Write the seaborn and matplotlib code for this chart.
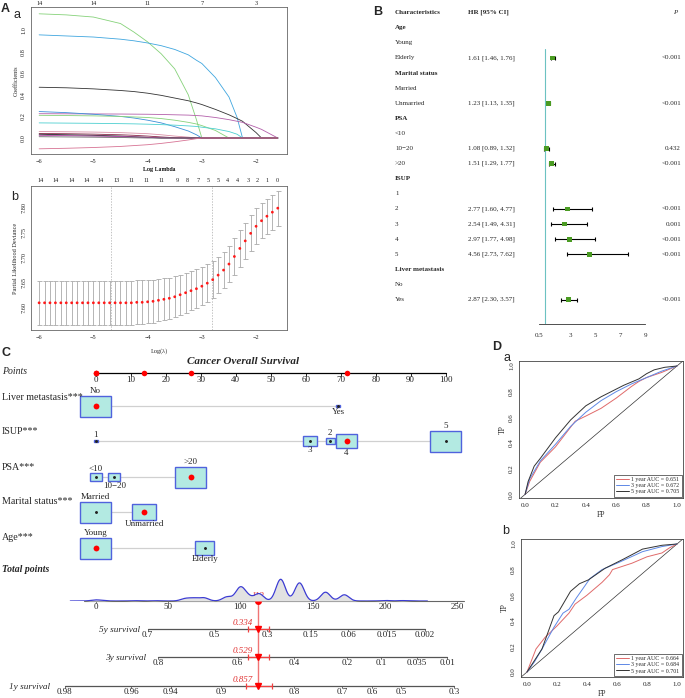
import numpy as np
import matplotlib
matplotlib.use("Agg")
import matplotlib.pyplot as plt
import matplotlib.transforms as mtransforms
from matplotlib.patches import Rectangle
import seaborn as sns

# ---------------- A-a: lasso coefficient paths ----------------
coef_lambda = [-6.0, -5.5, -5.0, -4.5, -4.25, -4.0, -3.75, -3.5, -3.25, -3.1, -3.0,
               -2.75, -2.5, -2.35, -2.25, -2.0, -1.9, -1.6]
coef_green1 = [1.15, 1.14, 1.12, 1.06, 0.98, 0.89, 0.78, 0.64, 0.40, 0.17, 0, 0, 0, 0, 0, 0, 0, 0]
coef_blue1 = [0.955, 0.945, 0.935, 0.915, 0.90, 0.88, 0.855, 0.82, 0.77, 0.72, 0.69, 0.56, 0.38, 0.19, 0, 0, 0, 0]
coef_black1 = [0.47, 0.465, 0.455, 0.44, 0.43, 0.415, 0.395, 0.37, 0.345, 0.325, 0.31, 0.265, 0.215, 0.18, 0.155, 0.05, 0, 0]
coef_purple = [0.225, 0.224, 0.223, 0.222, 0.221, 0.22, 0.218, 0.215, 0.212, 0.208, 0.205, 0.19, 0.17, 0.155, 0.145, 0.10, 0.08, 0]
coef_blue2 = [0.245, 0.235, 0.22, 0.20, 0.185, 0.165, 0.14, 0.105, 0.065, 0.03, 0, 0, 0, 0, 0, 0, 0, 0]
coef_green2 = [0.21, 0.208, 0.205, 0.20, 0.195, 0.19, 0.18, 0.165, 0.145, 0.13, 0.115, 0.07, 0, 0, 0, 0, 0, 0]
coef_cyan = [0.14, 0.138, 0.136, 0.133, 0.131, 0.128, 0.124, 0.119, 0.112, 0.107, 0.10, 0.085, 0.06, 0.035, 0, 0, 0, 0]
coef_pink = [0.06, 0.058, 0.055, 0.05, 0.045, 0.04, 0.03, 0.018, 0.008, 0, 0, 0, 0, 0, 0, 0, 0, 0]
coef_darkred = [0.042, 0.04, 0.036, 0.03, 0.025, 0.018, 0.01, 0.003, 0, 0, 0, 0, 0, 0, 0, 0, 0, 0]
coef_black2 = [0.035, 0.03, 0.025, 0.018, 0.012, 0.006, 0, 0, 0, 0, 0, 0, 0, 0, 0, 0, 0, 0]
coef_magenta = [0.025, 0.022, 0.018, 0.014, 0.01, 0.006, 0.002, 0, 0, 0, 0, 0, 0, 0, 0, 0, 0, 0]
coef_gray = [0.012, 0.01, 0.008, 0.005, 0.002, 0, 0, 0, 0, 0, 0, 0, 0, 0, 0, 0, 0, 0]
coef_red = [-0.10, -0.095, -0.088, -0.078, -0.07, -0.062, -0.05, -0.035, -0.018, -0.006, 0, 0, 0, 0, 0, 0, 0, 0]
coef_top_ticks = [-6, -5, -4, -3, -2]
coef_top_labels = ["14", "14", "11", "7", "3"]

# ---------------- A-b: cross-validation deviance ----------------
cv_lambda = [-6.0, -5.9, -5.8, -5.7, -5.6, -5.5, -5.4, -5.3, -5.2, -5.1, -5.0, -4.9, -4.8, -4.7, -4.6,
             -4.5, -4.4, -4.3, -4.2, -4.1, -4.0, -3.9, -3.8, -3.7, -3.6, -3.5, -3.4, -3.3, -3.2, -3.1,
             -3.0, -2.9, -2.8, -2.7, -2.6, -2.5, -2.4, -2.3, -2.2, -2.1, -2.0, -1.9, -1.8, -1.7, -1.6]
cv_mean = [7.610, 7.610, 7.610, 7.610, 7.610, 7.610, 7.610, 7.610, 7.610, 7.610, 7.610, 7.610, 7.610,
           7.610, 7.610, 7.610, 7.610, 7.610, 7.611, 7.611, 7.612, 7.613, 7.615, 7.617, 7.619, 7.622,
           7.626, 7.630, 7.634, 7.638, 7.643, 7.649, 7.656, 7.665, 7.675, 7.687, 7.702, 7.718, 7.733,
           7.748, 7.762, 7.773, 7.782, 7.790, 7.798]
cv_sd = [0.044, 0.044, 0.044, 0.044, 0.044, 0.044, 0.044, 0.044, 0.044, 0.044, 0.044, 0.044, 0.044,
         0.044, 0.044, 0.044, 0.044, 0.044, 0.044, 0.0435, 0.043, 0.0425, 0.042, 0.0415, 0.041, 0.0405,
         0.040, 0.0395, 0.039, 0.0385, 0.038, 0.0375, 0.037, 0.0365, 0.036, 0.036, 0.036, 0.036, 0.0355,
         0.0355, 0.0355, 0.035, 0.035, 0.035, 0.035]
cv_top_pos = [-5.97, -5.69, -5.41, -5.13, -4.86, -4.57, -4.30, -4.02, -3.74, -3.46, -3.26, -3.07,
              -2.89, -2.70, -2.52, -2.34, -2.15, -1.98, -1.80, -1.60]
cv_top_labels = ["14", "14", "14", "14", "14", "13", "11", "11", "11", "9", "8", "7",
                 "5", "5", "4", "4", "3", "2", "1", "0"]
lambda_min = -4.67
lambda_1se = -2.81

# ---------------- B: forest plot ----------------
forest_labels = ["Age", "Young", "Elderly", "Marital status", "Married", "Unmarried", "PSA", "<10",
                 "10\u221220", ">20", "ISUP", "1", "2", "3", "4", "5", "Liver metastasis", "No", "Yes"]
forest_header = [True, False, False, True, False, False, True, False, False, False, True,
                 False, False, False, False, False, True, False, False]
forest_hr = [None, None, 1.61, None, None, 1.23, None, None, 1.08, 1.51, None, None, 2.77, 2.54,
             2.97, 4.56, None, None, 2.87]
forest_lo = [None, None, 1.46, None, None, 1.13, None, None, 0.89, 1.29, None, None, 1.60, 1.49,
             1.77, 2.73, None, None, 2.30]
forest_hi = [None, None, 1.76, None, None, 1.35, None, None, 1.32, 1.77, None, None, 4.77, 4.31,
             4.98, 7.62, None, None, 3.57]
forest_p = [None, None, "<0.001", None, None, "<0.001", None, None, "0.432", "<0.001", None, None,
            "<0.001", "0.001", "<0.001", "<0.001", None, None, "<0.001"]
forest_ticks = [0.5, 3, 5, 7, 9]

# ---------------- C: nomogram ----------------
nomo_vars = ["Liver metastasis***", "ISUP***", "PSA***", "Marital status***", "Age***"]
nomo_levels = [["No", "Yes"], ["1", "2", "3", "4", "5"], ["<10", "10\u221220", ">20"],
               ["Married", "Unmarried"], ["Young", "Elderly"]]
nomo_points = [[0, 69.3], [0, 67.0, 61.2, 71.7, 100], [0, 5.3, 27.1], [0, 13.8], [0, 31.2]]
nomo_freq = [[1.0, 0.13], [0.13, 0.29, 0.45, 0.68, 1.0], [0.38, 0.39, 1.0], [1.0, 0.75], [1.0, 0.62]]
nomo_selected = ["No", "4", ">20", "Unmarried", "Young"]
points_ticks = [0, 10, 20, 30, 40, 50, 60, 70, 80, 90, 100]
total_ticks = [0, 50, 100, 150, 200, 250]
# distribution of total points in the cohort
total_scores = [0, 5, 27, 41, 62, 68, 75, 91, 100, 105, 113, 128, 141, 159, 172, 200, 212]
score_weights = [1.0, 0.3, 0.3, 0.3, 2.2, 2.5, 3.0, 4.0, 12.5, 4.0, 7.0, 21.0, 17.5, 8.5, 6.0, 0.5, 0.4]
surv_names = ["5y survival", "3y survival", "1y survival"]
surv_tick_labels = [["0.7", "0.5", "0.3", "0.15", "0.06", "0.015", "0.002"],
                    ["0.8", "0.6", "0.4", "0.2", "0.1", "0.035", "0.01"],
                    ["0.98", "0.96", "0.94", "0.9", "0.8", "0.7", "0.6", "0.5", "0.3"]]
surv_tick_total = [[36, 82.3, 118.6, 148.7, 174.8, 201.4, 227.5],
                   [43.5, 98.3, 137.1, 174.1, 197.3, 222, 243],
                   [-21.3, 24.5, 52, 87, 137.1, 170.7, 191, 211, 248]]
surv_pred = ["0.334", "0.529", "0.857"]
surv_ci_total = [[105.2, 119.8], [105.2, 120.0], [104.0, 122.0]]

# ---------------- D: ROC curves ----------------
roc_a = {
    "1 year AUC = 0.651": ([0, 0.03, 0.1, 0.2, 0.33, 0.4, 0.5, 0.55, 0.6, 0.7, 0.75, 0.8, 0.9, 1.0],
                           [0, 0.1, 0.25, 0.37, 0.57, 0.61, 0.67, 0.71, 0.75, 0.84, 0.88, 0.91, 0.95, 1.0]),
    "3 year AUC = 0.672": ([0, 0.03, 0.1, 0.2, 0.3, 0.4, 0.5, 0.6, 0.7, 0.8, 0.9, 1.0],
                           [0, 0.12, 0.26, 0.39, 0.53, 0.64, 0.73, 0.80, 0.86, 0.91, 0.96, 1.0]),
    "5 year AUC = 0.705": ([0, 0.02, 0.06, 0.1, 0.2, 0.3, 0.4, 0.5, 0.55, 0.65, 0.75, 0.8, 0.85, 0.92, 1.0],
                           [0, 0.1, 0.22, 0.28, 0.44, 0.58, 0.69, 0.76, 0.79, 0.85, 0.90, 0.94, 0.97, 0.99, 1.0]),
}
roc_b = {
    "1 year AUC = 0.664": ([0, 0.06, 0.12, 0.2, 0.28, 0.32, 0.4, 0.5, 0.55, 0.57, 0.7, 0.8, 0.9, 0.95, 1.0],
                           [0, 0.18, 0.27, 0.36, 0.46, 0.53, 0.60, 0.70, 0.76, 0.80, 0.85, 0.90, 0.93, 0.97, 1.0]),
    "3 year AUC = 0.684": ([0, 0.05, 0.1, 0.18, 0.24, 0.28, 0.33, 0.42, 0.5, 0.62, 0.77, 0.9, 1.0],
                           [0, 0.08, 0.18, 0.35, 0.46, 0.49, 0.58, 0.73, 0.80, 0.86, 0.94, 0.98, 1.0]),
    "5 year AUC = 0.701": ([0, 0.05, 0.1, 0.18, 0.21, 0.29, 0.35, 0.41, 0.52, 0.64, 0.77, 0.9, 1.0],
                           [0, 0.09, 0.18, 0.44, 0.47, 0.63, 0.69, 0.72, 0.81, 0.88, 0.96, 0.99, 1.0]),
}

# ---------------- figure ----------------
sns.set_style("white")
plt.rcParams["font.family"] = ["Liberation Serif", "DejaVu Serif"]

W, H = 685, 698
fig = plt.figure(figsize=(W / 100, H / 100), dpi=100)


def px_axes(l, t, r, b):
    return fig.add_axes([l / W, 1 - b / H, (r - l) / W, (b - t) / H])


def px_text(x, y, s, **kw):
    fig.text(x / W, 1 - y / H, s, **kw)


def r_box(ax, size=4.5, edge="#666666"):
    for sp in ax.spines.values():
        sp.set_visible(True)
        sp.set_color(edge)
        sp.set_linewidth(0.6)
    ax.tick_params(length=2, width=0.5, color=edge, labelcolor="#222222", labelsize=size, pad=1.5)


# panel letters
for x, y, s, w in [(1, 9, "A", "bold"), (13, 15, "a", "normal"), (11, 197, "b", "normal"),
                   (373, 12, "B", "bold"), (2, 353, "C", "bold"), (492, 347, "D", "bold"),
                   (503, 358, "a", "normal"), (502, 531, "b", "normal")]:
    px_text(x, y, s, fontsize=9, fontweight=w, family="Liberation Sans", va="center", ha="left")

# ---- A-a
coef_paths = [coef_green1, coef_blue1, coef_black1, coef_purple, coef_blue2, coef_green2, coef_cyan,
              coef_pink, coef_darkred, coef_black2, coef_magenta, coef_gray, coef_red]
coef_colors = ["#86D27A", "#3FA6DF", "#333333", "#B35FAA", "#3C8FD8", "#86D27A", "#4CCFD0",
               "#DB8FA6", "#8B2A4A", "#222222", "#B040A5", "#666666", "#D77394"]
ax = px_axes(31, 7, 287, 154)
for vals, col in zip(coef_paths, coef_colors):
    sns.lineplot(x=coef_lambda, y=vals, color=col, linewidth=0.6, sort=False, ax=ax)
ax.set_xlim(-6.15, -1.43)
ax.set_ylim(-0.148, 1.213)
ax.set_xticks([-6, -5, -4, -3, -2])
ax.set_yticks([0, 0.2, 0.4, 0.6, 0.8, 1.0])
ax.set_yticklabels(["0.0", "0.2", "0.4", "0.6", "0.8", "1.0"])
r_box(ax)
plt.setp(ax.get_yticklabels(), rotation=90, va="center")
ax.set_xlabel("Log Lambda", fontsize=4.5, labelpad=2)
ax.set_ylabel("Coefficients", fontsize=4.5, labelpad=2)
top = ax.secondary_xaxis("top")
top.set_xticks(coef_top_ticks, labels=coef_top_labels)
top.tick_params(length=0, labelsize=4.5, pad=1, labelcolor="#222222")
top.spines["top"].set_visible(False)

# ---- A-b
ax = px_axes(31, 186, 287, 330)
ax.errorbar(cv_lambda, cv_mean, yerr=cv_sd, fmt="none", ecolor="#AAAAAA", elinewidth=0.6,
            capsize=1.8, capthick=0.6)
sns.scatterplot(x=cv_lambda, y=cv_mean, color="#FF1A1A", s=4, edgecolor="none", zorder=3, ax=ax)
ax.axvline(lambda_min, color="#AAAAAA", lw=0.5, ls=(0, (2, 2)))
ax.axvline(lambda_1se, color="#AAAAAA", lw=0.5, ls=(0, (2, 2)))
ax.set_xlim(-6.15, -1.43)
ax.set_ylim(7.556, 7.842)
ax.set_xticks([-6, -5, -4, -3, -2])
ax.set_yticks([7.60, 7.65, 7.70, 7.75, 7.80])
ax.set_yticklabels(["7.60", "7.65", "7.70", "7.75", "7.80"])
r_box(ax)
plt.setp(ax.get_yticklabels(), rotation=90, va="center")
ax.set_xlabel("Log(\u03bb)", fontsize=4.5, labelpad=6)
ax.set_ylabel("Partial Likelihood Deviance", fontsize=4.5, labelpad=2)
top = ax.secondary_xaxis("top")
top.set_xticks(cv_top_pos, labels=cv_top_labels)
top.tick_params(length=0, labelsize=4.5, pad=2.5, labelcolor="#222222")
top.spines["top"].set_visible(False)
px_text(159, 170, "Log Lambda", fontsize=4.5, ha="center", va="center")

# ---- B forest
axB = px_axes(539, 5, 645, 324)
axB.set_xlim(0.5, 9)
axB.set_ylim(20.62, -0.51)
rows = list(range(1, len(forest_labels) + 1))
est_rows = [r for r, v in zip(rows, forest_hr) if v is not None]
est_hr = np.array([v for v in forest_hr if v is not None])
est_lo = np.array([v for v in forest_lo if v is not None])
est_hi = np.array([v for v in forest_hi if v is not None])
axB.plot([1, 1], [2.4, 20.62], color="#6CC2C2", lw=0.8, zorder=1)
axB.errorbar(est_hr, est_rows, xerr=[est_hr - est_lo, est_hi - est_hr], fmt="none", ecolor="black",
             elinewidth=0.8, capsize=1.6, capthick=0.8, zorder=2)
sns.scatterplot(x=est_hr, y=est_rows, marker="s", color="#4A9B22", s=12, edgecolor="none", zorder=3, ax=axB)
for side in ["top", "left", "right"]:
    axB.spines[side].set_visible(False)
axB.spines["bottom"].set_color("#333333")
axB.spines["bottom"].set_linewidth(0.6)
axB.set_yticks([])
axB.set_xticks(forest_ticks)
axB.set_xticklabels(["0.5", "3", "5", "7", "9"])
axB.tick_params(axis="x", direction="in", length=3, width=0.6, labelsize=5, pad=6.5)
axB.set_xlabel("")
trB = mtransforms.blended_transform_factory(fig.transFigure, axB.transData)
axB.text(395 / W, 0, "Characteristics", transform=trB, fontsize=5, fontweight="bold", va="center")
axB.text(468 / W, 0, "HR [95% CI]", transform=trB, fontsize=5, fontweight="bold", va="center")
axB.text(675 / W, 0, "P", transform=trB, fontsize=5, style="italic", va="center", ha="center")
for r, lab, hd, hr, lo, hi, p in zip(rows, forest_labels, forest_header, forest_hr, forest_lo,
                                      forest_hi, forest_p):
    axB.text(395 / W, r, lab, transform=trB, fontsize=5, va="center",
             fontweight="bold" if hd else "normal")
    if hr is not None:
        axB.text(468 / W, r, f"{hr:.2f} [{lo:.2f}, {hi:.2f}]", transform=trB, fontsize=5, va="center")
        axB.text(681 / W, r, p, transform=trB, fontsize=5, va="center", ha="right")

# ---- C nomogram
axC = px_axes(0, 350, 470, 698)
axC.set_xlim(-95.67 / 3.5, (470 - 95.67) / 3.5)
axC.set_ylim(698, 350)
axC.axis("off")
axT = px_axes(0, 350, 470, 698)
axT.set_xlim(-95.5 / 1.4468, (470 - 95.5) / 1.4468)
axT.set_ylim(698, 350)
axT.axis("off")

px_text(243, 362, "Cancer Overall Survival", fontsize=8, fontweight="bold", style="italic",
        ha="center", va="center")
px_text(2, 371, "Points", fontsize=7, style="italic", va="center")
axC.plot([points_ticks[0], points_ticks[-1]], [373, 373], color="black", lw=0.9)
for t in points_ticks:
    axC.plot([t, t], [373, 375.5], color="black", lw=0.6)
    px_text(95.67 + 3.5 * t, 376.5, f"{t:d}", fontsize=6.5, ha="center", va="top", zorder=6)

row_label_y = [397, 431, 467, 502, 538]
row_line_y = [406, 441, 477, 512, 548]
label_side = [["above", "below"], ["above", "above", "below", "below", "above"],
              ["above", "below", "above"], ["above", "below"], ["above", "below"]]
box_w, box_h = 31 / 3.5, 21
sel_pts = []
for name, levels, pts, freq, sel, ly, y, sides in zip(nomo_vars, nomo_levels, nomo_points, nomo_freq,
                                                       nomo_selected, row_label_y, row_line_y, label_side):
    px_text(2, ly, name, fontsize=7.2, va="center")
    axC.plot([min(pts), max(pts)], [y, y], color="#D0D0D0", lw=0.9, zorder=1)
    for lev, p, f, sd in zip(levels, pts, freq, sides):
        w, h = box_w * f, box_h * f
        axC.add_patch(Rectangle((p - w / 2, y - h / 2), w, h, facecolor="#B3EAE2",
                                edgecolor="#5062DD", lw=1.0, zorder=2))
        if lev == sel:
            sel_pts.append(p)
            axC.plot(p, y, "o", color="#FF0000", ms=4.2, mec="none", zorder=3)
        else:
            axC.plot(p, y, "o", color="#222222", ms=1.1, zorder=3)
        if sd == "above":
            axC.text(p, y - h / 2 - 0.5, lev, fontsize=6.5, ha="center", va="bottom", zorder=4)
        else:
            axC.text(p, y + h / 2 + 0.5, lev, fontsize=6.5, ha="center", va="top", zorder=4)
axC.plot(sel_pts, [373] * len(sel_pts), "o", color="#FF0000", ms=4.0, mec="none", zorder=3,
         clip_on=False)
total_sel = sum(sel_pts)

# total points density
px_text(2, 570, "Total points", fontsize=7, fontweight="bold", style="italic", va="center")
axD = px_axes(0, 574, 470, 601)
sc_std = np.sqrt(np.cov(total_scores, aweights=score_weights))
sns.kdeplot(x=total_scores, weights=score_weights, bw_method=3.2 / sc_std, gridsize=800,
            fill=True, color="#E2E2E2", alpha=1, linewidth=0, ax=axD)
sns.kdeplot(x=total_scores, weights=score_weights, bw_method=3.2 / sc_std, gridsize=800,
            color="#3C3CD2", linewidth=0.9, ax=axD)
peak = max(axD.lines[-1].get_ydata())
axD.set_xlim(-95.5 / 1.4468, (470 - 95.5) / 1.4468)
axD.set_ylim(0, peak * 27 / 21.7)
axD.axis("off")

axT.plot([-8, 255], [601, 601], color="#666666", lw=0.8, zorder=2)
for t in total_ticks:
    axT.plot([t, t], [601, 603], color="#666666", lw=0.6)
    axT.text(t, 602.5, str(t), fontsize=6.5, ha="center", va="top")

surv_y = [629, 657, 686]
surv_name_x = [140, 146, 50]
axT.plot([total_sel, total_sel], [601, 686], color="#F07575", lw=1.0, zorder=3)
axT.plot(total_sel, 601, "o", color="#FF0000", ms=5, mec="none", zorder=5)
axT.text(total_sel, 599.5, f"{total_sel:.0f}", color="#E03030", fontsize=6.5, style="italic",
         ha="center", va="bottom", zorder=4)
for name, labs, tps, pred, ci, y, nx in zip(surv_names, surv_tick_labels, surv_tick_total, surv_pred,
                                             surv_ci_total, surv_y, surv_name_x):
    px_text(nx, y + 1, name, fontsize=6.7, style="italic", ha="right", va="center")
    axT.plot([tps[0], tps[-1]], [y, y], color="#555555", lw=0.9, zorder=2)
    for lab, t in zip(labs, tps):
        axT.plot([t, t], [y, y + 2], color="#555555", lw=0.6)
        axT.text(t, y + 1.5, lab, fontsize=6.5, ha="center", va="top")
    axT.errorbar([total_sel], [y], xerr=[[total_sel - ci[0]], [ci[1] - total_sel]], fmt="v",
                 color="#FF0000", ecolor="#F04040", ms=5, elinewidth=0.9, capsize=2.5,
                 capthick=0.9, zorder=5)
    axT.text(total_sel - 3.5, y - 6, pred, color="#E03030", fontsize=6.5, style="italic",
             ha="right", va="center", zorder=5)

# ---- D ROC
roc_colors = ["#E06A6A", "#5E88E6", "#333333"]
for roc, (l, t, r, b), ylim in [(roc_a, (519, 361, 683, 498), (-0.028, 1.039)),
                                (roc_b, (521, 539, 683, 677), (-0.039, 1.039))]:
    ax = px_axes(l, t, r, b)
    ax.axline((0, 0), (1, 1), color="#333333", lw=0.5)
    for (lab, (fp, tp)), col in zip(roc.items(), roc_colors):
        sns.lineplot(x=fp, y=tp, color=col, linewidth=0.7, sort=False, label=lab, ax=ax)
    ax.set_xlim(-0.04, 1.04)
    ax.set_ylim(*ylim)
    ax.set_xticks([0, 0.2, 0.4, 0.6, 0.8, 1.0])
    ax.set_xticklabels(["0.0", "0.2", "0.4", "0.6", "0.8", "1.0"])
    ax.set_yticks([0, 0.2, 0.4, 0.6, 0.8, 1.0])
    ax.set_yticklabels(["0.0", "0.2", "0.4", "0.6", "0.8", "1.0"])
    r_box(ax, size=5, edge="#444444")
    plt.setp(ax.get_yticklabels(), rotation=90, va="center")
    ax.set_xlabel("FP", fontsize=5.5, labelpad=2)
    ax.set_ylabel("TP", fontsize=5.5, labelpad=2)
    leg = ax.legend(loc="lower right", fontsize=4.2, frameon=True, fancybox=False, framealpha=1,
                    edgecolor="#333333", handlelength=2.2, borderpad=0.35, labelspacing=0.2,
                    borderaxespad=0.25, handletextpad=0.4)
    leg.get_frame().set_linewidth(0.5)

fig.savefig("out.png", dpi=100)
